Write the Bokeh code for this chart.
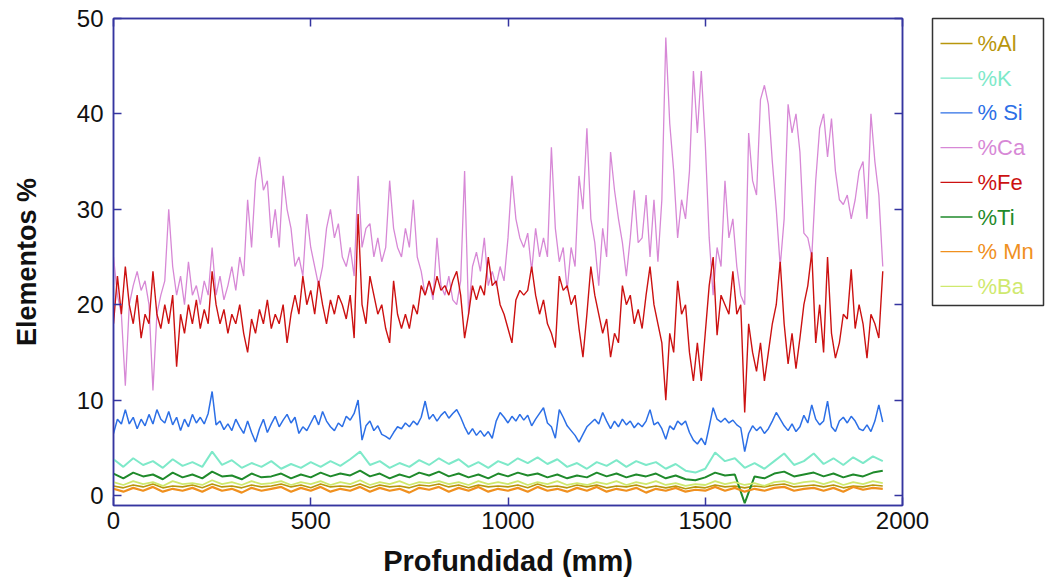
from bokeh.plotting import figure
from bokeh.layouts import row
from bokeh.models import LinearAxis, FixedTicker, Range1d
from bokeh.embed import file_html
from bokeh.resources import INLINE

# Depth sampling (mm)
depth_fine = list(range(0, 1951, 10))
depth_coarse = list(range(0, 1951, 25))

# %Ca, every 10 mm
ca = [25, 21, 19, 11.5, 20, 22, 23.5, 21.5, 22.5, 20,
      11, 19, 21, 22.5, 30, 24, 21, 23, 20, 24.5,
      21, 22, 20, 22.5, 21, 26, 21, 23, 20.5, 22,
      24, 21.5, 25, 23, 31, 26, 33, 35.5, 32, 33,
      27, 30, 26, 33.5, 30, 28, 24, 25, 23, 29.5,
      26, 24, 22, 24, 28, 30, 27, 28.5, 25, 24,
      26, 23, 33.5, 26, 28, 28.5, 25, 27, 24.5, 26,
      33, 28, 26, 25, 28, 26, 31, 25, 23.5, 21,
      22.5, 20.5, 27, 22, 21, 23, 20.5, 20, 22.5, 34,
      19, 24, 25.5, 23.5, 27, 22, 23.5, 22, 24, 22.5,
      27, 33.5, 29, 27, 26, 27.5, 23.5, 28, 25, 27,
      25, 36.5, 28, 24.5, 26, 21.5, 26, 24, 33.5, 30,
      38.5, 29, 26.5, 22, 28, 25, 36, 32, 29, 26.5,
      23, 27, 32, 26.5, 27, 31.5, 25, 31, 24.5, 31,
      48, 39, 34, 27, 31, 29, 34, 44.5, 38, 44.5,
      37, 27, 21, 26, 24, 33, 27, 29, 24, 21,
      20, 38, 33, 31.5, 41.5, 43, 41, 35, 30, 24,
      29, 41, 38, 40, 36, 27.5, 27, 25, 33, 38.5,
      40, 35.5, 39.5, 34, 31, 30.5, 31.5, 29, 31, 34,
      35, 29, 40, 35, 31.5, 24]

# %Fe, every 10 mm
fe = [18, 23, 19, 24, 20, 18, 21, 16.5, 19, 18,
      23.5, 19, 17.5, 20, 18, 21, 13.5, 19, 17, 20,
      18, 20.5, 17.5, 19.5, 18, 23.5, 20, 18, 19.5, 17,
      19, 18, 20, 17, 15, 18.5, 17, 19.5, 18, 20.5,
      17.5, 19, 18, 20, 16, 19, 21, 19, 23, 20,
      21.5, 19, 22.5, 20, 18, 20.5, 19, 21, 20, 18.5,
      21, 16.5, 29.5, 20, 18, 23, 21, 19, 20, 17.5,
      16, 22.5, 19, 17.5, 19, 17.5, 20, 19, 22, 21,
      22.5, 21, 23, 21.5, 22, 21, 22.5, 23.5, 21, 16.5,
      19, 22, 20.5, 22, 21, 25, 22, 22.5, 20, 19,
      17.5, 16, 20.5, 21.5, 21, 21.5, 24, 21, 19, 20.5,
      18, 17, 15.5, 23, 21.5, 22, 20, 21, 17.5, 14.5,
      19, 24, 21, 19, 17, 18.5, 14.5, 17, 16, 22,
      20, 21, 18, 19.5, 17.5, 21, 24, 20, 18, 16,
      10, 17, 15, 22.5, 19, 20, 15, 12, 16, 12,
      17, 22, 25, 16.8, 21, 20, 19, 23.5, 19, 20,
      8.7, 18, 15, 13, 16, 12, 15, 18, 20, 24.5,
      18, 13.8, 17, 13.3, 16.5, 20, 22, 25.5, 16, 20,
      15, 25, 17, 14.4, 16, 19, 18.5, 23.7, 17.5, 20,
      18, 14.4, 19, 18, 16.5, 23.5]

# % Si, every 10 mm
si = [6.5, 8, 7.5, 9, 7.5, 8.2, 7, 8, 7.3, 8.5,
      7.5, 9, 8, 7.6, 8.8, 7.4, 8.2, 6.8, 8, 7.2,
      8.5, 7.6, 8.2, 7.5, 8.6, 10.9, 7.4, 7.8, 6.9, 7.5,
      6.8, 8, 7.2, 6.5, 7.8, 6.6, 5.6, 7, 8, 6.6,
      7.5, 8.3, 7.2, 7.9, 8.5, 7.6, 8.2, 6.5, 7.2, 6.8,
      7.6, 8.4, 7.4, 8.8, 7.8, 7.2, 6.8, 7.6, 7.2, 8.3,
      7.9, 8.6, 10, 5.8, 7.3, 7.8, 6.8, 7.3, 6.4, 6.2,
      5.9, 6.6, 7.2, 7, 7.6, 7.2, 7.8, 7.4, 8.2, 9.9,
      8, 8.5, 7.8, 8.4, 8.8, 8.1, 8.6, 9, 8.2, 7.2,
      6.4, 7, 6.3, 6.8, 6.2, 6.7, 6, 7.8, 8.7, 8.2,
      7.6, 8.3, 7.8, 8.5, 7.9, 8.4, 7.3, 8, 8.6, 9.2,
      7.6, 7.2, 6, 9, 8.2, 7.3, 6.8, 6.3, 5.6, 6.4,
      7.2, 7.6, 8, 7.5, 8.7, 7.8, 7, 7.8, 7.2, 8,
      7.4, 7.8, 7.1, 7.6, 7.2, 7.8, 9, 7.4, 7.7, 7,
      5.9, 7.3, 6.9, 7.8, 7.4, 7.8, 6.6, 5.8, 5.4, 6,
      5.3, 7.2, 9.2, 8, 7.7, 8.1, 7.6, 7.9, 7.4, 7.1,
      4.6, 6.5, 7.3, 6.8, 7.2, 6.5, 7, 7.8, 8.7, 8,
      7.3, 6.8, 7.5, 6.7, 7.2, 8.4, 7.6, 9.5, 8, 7.4,
      7.8, 9.9, 7.2, 6.7, 7.8, 8.2, 7.6, 8.3, 7.8, 7,
      6.8, 7.4, 6.7, 7.8, 9.5, 7.7]

# Minor elements, every 25 mm
k = [3.8, 3.0, 3.9, 3.2, 3.6, 2.9, 3.8, 3.1,
     3.5, 3.0, 4.6, 3.2, 3.7, 2.9, 3.4, 3.0,
     3.6, 2.8, 3.3, 2.9, 3.5, 3.0, 3.6, 3.1,
     3.8, 4.6, 3.2, 3.6, 2.9, 3.4, 3.0, 3.7,
     3.2, 3.9, 3.3, 3.8, 3.0, 3.5, 2.9, 3.6,
     3.2, 3.9, 3.4, 4.0, 3.3, 3.8, 3.0, 3.4,
     2.8, 3.5, 3.1, 3.7, 3.0, 3.6, 3.2, 3.5,
     2.8, 3.3, 2.6, 2.4, 2.8, 4.5, 3.6, 3.9,
     2.9, 3.4, 2.8, 3.6, 4.4, 3.2, 3.6, 4.4,
     3.3, 3.9, 3.2, 4.0, 3.4, 4.1, 3.6]

ti = [2.3, 1.8, 2.4, 2.0, 2.2, 1.7, 2.4, 1.9,
      2.2, 1.8, 2.5, 2.0, 2.1, 1.7, 2.3, 1.9,
      2.0, 2.3, 1.8, 2.2, 1.9, 2.4, 2.0, 2.3,
      2.1, 2.6, 2.0, 2.3, 1.8, 2.2, 1.9, 2.4,
      2.1, 2.5, 2.0, 2.3, 1.9, 2.2, 1.8, 2.3,
      2.0, 2.4, 2.1, 2.3, 1.9, 2.2, 1.8, 2.1,
      1.9, 2.4, 2.0, 2.3, 1.9, 2.2, 2.0, 2.3,
      1.8, 2.1, 1.7, 1.6, 1.9, 2.4, 2.1, 2.2,
      -0.8, 2.0, 1.8, 2.3, 2.5, 2.0, 2.2, 2.4,
      2.0, 2.3, 1.9, 2.2, 2.0, 2.4, 2.6]

ba = [1.4, 1.1, 1.5, 1.2, 1.4, 1.0, 1.5, 1.2,
      1.3, 1.1, 1.6, 1.2, 1.4, 1.1, 1.5, 1.2,
      1.3, 1.5, 1.1, 1.4, 1.2, 1.5, 1.1, 1.4,
      1.2, 1.6, 1.1, 1.4, 1.2, 1.5, 1.1, 1.4,
      1.3, 1.5, 1.2, 1.4, 1.1, 1.5, 1.2, 1.4,
      1.2, 1.5, 1.1, 1.4, 1.2, 1.5, 1.1, 1.3,
      1.1, 1.4, 1.2, 1.5, 1.1, 1.4, 1.2, 1.5,
      1.1, 1.3, 1.0, 1.2, 1.1, 1.5, 1.2, 1.4,
      1.1, 1.3, 1.0, 1.4, 1.5, 1.2, 1.4, 1.5,
      1.2, 1.5, 1.1, 1.4, 1.2, 1.5, 1.3]

mn = [0.7, 0.4, 0.8, 0.5, 0.9, 0.4, 0.7, 0.5,
      0.8, 0.4, 0.9, 0.5, 0.7, 0.3, 0.8, 0.5,
      0.7, 0.9, 0.4, 0.8, 0.5, 0.9, 0.4, 0.7,
      0.5, 0.9, 0.4, 0.8, 0.5, 0.7, 0.3, 0.8,
      0.6, 0.9, 0.4, 0.8, 0.5, 0.9, 0.4, 0.7,
      0.5, 0.8, 0.4, 0.9, 0.5, 0.7, 0.4, 0.8,
      0.5, 0.9, 0.4, 0.7, 0.5, 0.8, 0.3, 0.7,
      0.5, 0.8, 0.4, 0.6, 0.5, 0.9, 0.5, 0.8,
      0.4, 0.7, 0.5, 0.8, 0.9, 0.5, 0.7, 0.8,
      0.5, 0.8, 0.4, 0.9, 0.6, 0.8, 0.7]

al = [1.0, 0.8, 1.1, 0.9, 1.2, 0.8, 1.0, 0.9,
      1.1, 0.8, 1.2, 0.9, 1.0, 0.8, 1.1, 0.9,
      1.0, 1.2, 0.9, 1.1, 0.8, 1.2, 0.9, 1.0,
      0.9, 1.2, 0.8, 1.1, 0.9, 1.0, 0.8, 1.1,
      1.0, 1.2, 0.9, 1.1, 0.8, 1.1, 0.9, 1.0,
      0.9, 1.1, 0.8, 1.2, 0.9, 1.0, 0.8, 1.1,
      0.9, 1.1, 0.8, 1.0, 0.9, 1.1, 0.8, 1.0,
      0.8, 1.0, 0.7, 0.9, 0.8, 1.1, 0.9, 1.0,
      0.8, 1.0, 0.9, 1.1, 1.2, 0.9, 1.0, 1.1,
      0.9, 1.1, 0.8, 1.0, 0.9, 1.1, 1.0]

x_ticks = [0, 500, 1000, 1500, 2000]
y_ticks = [0, 10, 20, 30, 40, 50]

# (label, depths, values, colour, width) in legend order
series = [
    ("%Al", depth_coarse, al, "#b8960c", 1.6),
    ("%K", depth_coarse, k, "#7ee9c9", 2.0),
    ("% Si", depth_fine, si, "#2c6fe6", 1.5),
    ("%Ca", depth_fine, ca, "#d788d6", 1.3),
    ("%Fe", depth_fine, fe, "#cc1111", 1.4),
    ("%Ti", depth_coarse, ti, "#1f8a2b", 2.0),
    ("% Mn", depth_coarse, mn, "#f0901e", 2.2),
    ("%Ba", depth_coarse, ba, "#cfe96e", 1.8),
]
labels = [s[0] for s in series]
colors = [s[3] for s in series]

NAVY = "#3535a0"
FONT = "Liberation Sans"

# ---- main chart -------------------------------------------------------
p = figure(frame_width=789, frame_height=487,
           x_range=Range1d(0, 2000), y_range=Range1d(-1.05, 50),
           output_backend="svg", toolbar_location=None,
           min_border_left=113, min_border_right=28,
           min_border_top=18, min_border_bottom=77,
           background_fill_color="white", border_fill_color="white")
p.xgrid.visible = False
p.ygrid.visible = False
p.outline_line_color = NAVY
p.outline_line_width = 1.5


def style_axis(ax, ticks, show_labels):
    ax.ticker = FixedTicker(ticks=ticks)
    ax.axis_line_color = NAVY
    ax.axis_line_width = 1.5
    ax.major_tick_line_color = NAVY
    ax.major_tick_line_width = 1.5
    ax.major_tick_in = 8
    ax.major_tick_out = 0
    ax.minor_tick_line_color = None
    if show_labels:
        ax.major_label_text_font = FONT
        ax.major_label_text_font_size = "24px"
        ax.major_label_text_color = "#111111"
    else:
        ax.major_label_text_font_size = "2px"
        ax.major_label_text_alpha = 0.0
        ax.major_label_standoff = 0


style_axis(p.xaxis[0], x_ticks, True)
style_axis(p.yaxis[0], y_ticks, True)
p.xaxis.major_label_standoff = 6
p.yaxis.major_label_standoff = 10
p.xaxis.axis_label = "Profundidad (mm)"
p.yaxis.axis_label = "Elementos %"
for ax in (p.xaxis[0], p.yaxis[0]):
    ax.axis_label_text_font = FONT
    ax.axis_label_text_font_style = "bold"
    ax.axis_label_text_color = "#111111"
p.xaxis.axis_label_text_font_size = "29px"
p.yaxis.axis_label_text_font_size = "27px"
p.xaxis.axis_label_standoff = 13
p.yaxis.axis_label_standoff = 32

top_ax = LinearAxis()
style_axis(top_ax, x_ticks, False)
p.add_layout(top_ax, "above")
right_ax = LinearAxis()
style_axis(right_ax, y_ticks, False)
p.add_layout(right_ax, "right")

for label, xs, ys, color, lw in series:
    p.line(xs, ys, line_color=color, line_width=lw)

# ---- legend panel -----------------------------------------------------
n = len(series)
slots = list(range(n))
leg = figure(frame_width=111, frame_height=287,
             x_range=Range1d(0, 111), y_range=Range1d(7.55, -0.72),
             output_backend="svg", toolbar_location=None,
             min_border_left=2, min_border_right=2,
             min_border_top=18, min_border_bottom=277,
             background_fill_color="white", border_fill_color="white")
leg.axis.visible = False
leg.xgrid.visible = False
leg.ygrid.visible = False
leg.outline_line_color = "#333333"
leg.outline_line_width = 1.5
leg.segment(x0=[8] * n, x1=[40] * n, y0=slots, y1=slots,
            line_color=colors, line_width=1.3)
leg.text(x=[45] * n, y=slots, text=labels, text_color=colors,
         text_font={"value": FONT}, text_font_size="22px",
         text_baseline="middle", text_align="left")

layout = row(p, leg)
open("out.html", "w").write(file_html(layout, INLINE))
